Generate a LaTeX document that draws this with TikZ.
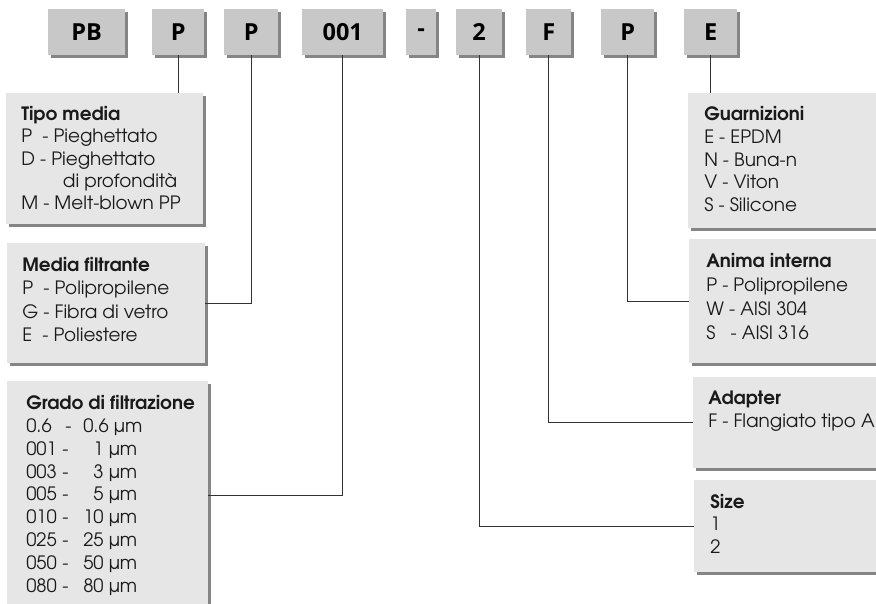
\documentclass[tikz,border=0pt]{standalone}
\usepackage{fontspec}
\newfontfamily\gothic{texgyreadventor}[Extension=.otf, UprightFont=*-regular, BoldFont=*-bold]
\newfontfamily\codefont{Open Sans}
\usetikzlibrary{shadows}
\definecolor{topfill}{HTML}{C8C8C8}
\definecolor{infofill}{HTML}{E6E6E6}
\definecolor{shadowgray}{HTML}{858585}
\definecolor{linegray}{HTML}{333333}
\definecolor{textgray}{HTML}{1A1A1A}
\tikzset{
  shad/.style={drop shadow={shadow xshift=3pt,shadow yshift=-3pt,fill=shadowgray,opacity=1}},
  codebox/.style={shad,fill=topfill,inner sep=0pt,anchor=north west,minimum height=46pt,
    font={\codefont\bfseries\fontsize{23.5}{26}\selectfont},text=black},
  infobox/.style={shad,fill=infofill,inner sep=0pt,anchor=north west},
  infotext/.style={anchor=base west,inner sep=0pt,text=textgray},
  conn/.style={draw=linegray,line width=0.9pt}
}
\newcommand{\hd}[1]{\textbf{#1}}
\newcommand{\gr}[2]{\makebox[36pt][l]{#1}\makebox[21pt][l]{-}#2}
\newcommand{\gfont}[1]{\gothic\fontsize{18.4}{#1}\selectfont}
\begin{document}
\begin{tikzpicture}[x=1pt,y=-1pt]
\useasboundingbox (0,0) rectangle (876,604);
% code boxes
\node[codebox,minimum width=77pt] (pb)  at (48,9)  {PB};
\node[codebox,minimum width=52pt] (p1)  at (152,9) {P};
\node[codebox,minimum width=54pt] (p2)  at (224,9) {P};
\node[codebox,minimum width=81pt] (g)   at (302,9) {001};
\node[codebox,minimum width=30pt] (da)  at (406,9) {-};
\node[codebox,minimum width=46pt] (sz)  at (456,9) {2};
\node[codebox,minimum width=45pt] (ad)  at (526,9) {F};
\node[codebox,minimum width=53pt] (an)  at (601,9) {P};
\node[codebox,minimum width=53pt] (ga)  at (684,9) {E};
% info boxes
\node[infobox,minimum width=197pt,minimum height=131pt] (tipo)  at (6,93)  {};
\node[infobox,minimum width=198pt,minimum height=120pt] (media) at (7,243) {};
\node[infobox,minimum width=201pt,minimum height=229pt] (grado) at (7,381) {};
\node[infobox,minimum width=200pt,minimum height=135pt] (guarn) at (688,93)  {};
\node[infobox,minimum width=200pt,minimum height=124pt] (anima) at (689,239) {};
\node[infobox,minimum width=200pt,minimum height=91pt]  (adapt) at (693,377) {};
\node[infobox,minimum width=200pt,minimum height=92pt]  (size)  at (694,480) {};
% texts
\node[infotext] (tipot) at (16,120.7) {\gfont{22.3}
  \begin{tabular}[t]{@{}l@{}}\hd{Tipo media}\\P\ \ - Pieghettato\\D - Pieghettato\\\hspace{41.7pt}di profondità\\M - Melt-blown PP\end{tabular}};
\node[infotext] (mediat) at (17,271.7) {\gfont{23.3}
  \begin{tabular}[t]{@{}l@{}}\hd{Media filtrante}\\P\ \ - Polipropilene\\G - Fibra di vetro\\E\ \ - Poliestere\end{tabular}};
\node[infotext] (gradot) at (21,409.3) {\gfont{22.9}
  \begin{tabular}[t]{@{}l@{}}\hd{Grado di filtrazione}\\
  \makebox[39pt][l]{0.6}\makebox[18pt][l]{-}0.6 µm\\
  \gr{001}{\phantom{0}1 µm}\\\gr{003}{\phantom{0}3 µm}\\\gr{005}{\phantom{0}5 µm}\\
  \gr{010}{10 µm}\\\gr{025}{25 µm}\\\gr{050}{50 µm}\\\gr{080}{80 µm}\end{tabular}};
\node[infotext] (guarnt) at (699,120.7) {\gfont{22.75}
  \begin{tabular}[t]{@{}l@{}}\hd{Guarnizioni}\\E - EPDM\\N - Buna-n\\V - Viton\\S - Silicone\end{tabular}};
\node[infotext] (animat) at (701,267.3) {\gfont{24}
  \begin{tabular}[t]{@{}l@{}}\hd{Anima interna}\\P - Polipropilene\\W - AISI 304\\S\ \ \ - AISI 316\end{tabular}};
\node[infotext] (adaptt) at (703,404) {\gfont{23.3}
  \begin{tabular}[t]{@{}l@{}}\hd{Adapter}\\F - Flangiato tipo A\end{tabular}};
\node[infotext] (sizet) at (705,508.3) {\gfont{22.5}
  \begin{tabular}[t]{@{}l@{}}\hd{Size}\\1\\2\end{tabular}};
% connectors
\draw[conn] (p1.south) -- (p1.south |- tipo.north);
\draw[conn] (p2.south) |- (media.east);
\draw[conn] (g.south) |- (grado.east);
\draw[conn] (sz.south) |- (size.west);
\draw[conn] (ad.south) |- (adapt.west);
\draw[conn] (an.south) |- (anima.west);
\draw[conn] (ga.south) -- (ga.south |- guarn.north);
\end{tikzpicture}
\end{document}
